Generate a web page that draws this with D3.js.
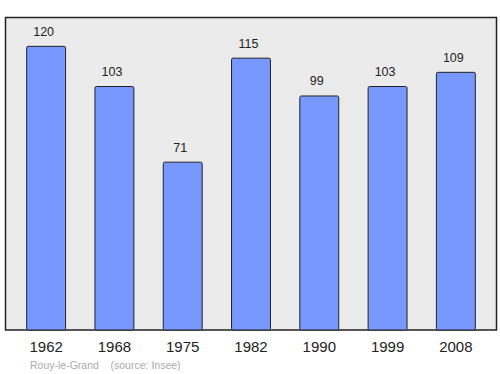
<!DOCTYPE html>
<html>
<head>
<meta charset="utf-8">
<script src="https://cdn.jsdelivr.net/npm/d3@7"></script>
<style>
  body { margin: 0; background: #fff; }
  svg { display: block; font-family: "Liberation Sans", Arial, sans-serif; }
</style>
</head>
<body>
<script>
//width and height of svg
var w = 500;
var h = 374;

//data
var years = ["1962", "1968", "1975", "1982", "1990", "1999", "2008"];
var population = [120, 103, 71, 115, 99, 103, 109];
var place = "Rouy-le-Grand";
var source = "(source: Insee)";

//plot frame
var frame = { left: 5.5, top: 17.5, right: 496.5, bottom: 330 };

var svg = d3.select("body")
            .append("svg")
            .attr("width", w)
            .attr("height", h);

svg.append("rect")
    .attr("x", frame.left)
    .attr("y", frame.top)
    .attr("width", frame.right - frame.left)
    .attr("height", frame.bottom - frame.top)
    .attr("fill", "#ebebeb")
    .attr("stroke", "#222")
    .attr("stroke-width", 1.5);

var xScale = d3.scaleBand()
                .domain(years)
                .range([12, 490])
                .paddingInner(0.43)
                .paddingOuter(0.215);

var yScale = d3.scaleLinear()
                .domain([0, 132.2])
                .range([frame.bottom, frame.top]);

//bars
svg.selectAll("rect.bar")
    .data(population)
    .enter()
    .append("rect")
    .attr("class", "bar")
    .attr("x", function(d, i) { return xScale(years[i]); })
    .attr("y", function(d) { return yScale(d); })
    .attr("width", xScale.bandwidth())
    .attr("height", function(d) { return yScale(0) - yScale(d); })
    .attr("rx", 1.5)
    .attr("fill", "#7799ff")
    .attr("stroke", "#222")
    .attr("stroke-width", 1);

//value labels (sit a little left of the bar centre)
svg.selectAll("text.val")
    .data(population)
    .enter()
    .append("text")
    .attr("class", "val")
    .attr("x", function(d, i) { return xScale(years[i]) + xScale.bandwidth() / 2 - 2.5; })
    .attr("y", function(d) { return yScale(d) - 10.5; })
    .attr("text-anchor", "middle")
    .attr("font-size", 12.5)
    .attr("fill", "#222")
    .text(function(d) { return d; });

//year axis
var xAxis = d3.axisBottom(xScale).tickSize(0).tickPadding(11);
var gx = svg.append("g")
    .attr("transform", "translate(0," + frame.bottom + ")")
    .call(xAxis);
gx.select(".domain").remove();
gx.selectAll("text")
    .attr("font-size", 15)
    .attr("font-family", "Liberation Sans, Arial, sans-serif")
    .attr("fill", "#222");

//footer
svg.append("text")
    .attr("x", 30)
    .attr("y", 368.5)
    .attr("font-size", 10.5)
    .attr("fill", "#aaa")
    .attr("xml:space", "preserve")
    .text(place + "    " + source);
</script>
</body>
</html>
